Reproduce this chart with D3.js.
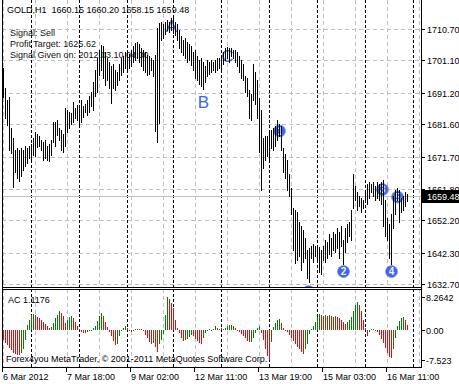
<!DOCTYPE html>
<html><head><meta charset="utf-8">
<script src="https://cdn.jsdelivr.net/npm/d3@7"></script>
<style>
body{margin:0;background:#fff}
svg{display:block}
text{font-family:"Liberation Sans",Arial,sans-serif;font-size:9px}
</style>
</head><body><svg id="c" width="459" height="384"></svg>
<script>
const symbolTitle = "GOLD,H1  1660.15 1660.20 1658.15 1659.48";
const infoLines = ["Signal: Sell", "Profit Target: 1625.62", "Signal Given on: 2012.03.10 04:00"];
const highs = [1698.8,1692.7,1689.0,1689.9,1680.4,1677.4,1673.7,1674.3,1673.7,1674.3,
1673.7,1674.9,1674.3,1674.9,1675.5,1677.4,1679.2,1678.6,1678.0,1676.8,
1676.1,1676.8,1674.9,1675.5,1676.8,1682.3,1682.3,1682.9,1680.4,1679.8,
1678.6,1686.6,1685.9,1685.3,1685.0,1688.4,1686.6,1687.5,1686.6,1689.0,
1687.2,1687.8,1689.0,1690.2,1691.4,1694.5,1698.2,1701.9,1704.3,1705.8,
1705.5,1703.7,1701.9,1700.6,1699.4,1700.0,1698.2,1697.6,1700.0,1701.9,
1702.5,1703.7,1703.7,1703.1,1704.3,1705.5,1706.4,1706.7,1706.1,1704.9,
1704.3,1703.7,1702.8,1702.5,1701.9,1701.2,1702.8,1711.0,1712.6,1712.9,
1712.3,1712.9,1713.5,1712.9,1714.1,1714.4,1712.9,1712.3,1710.4,1708.6,
1707.4,1708.0,1706.7,1706.1,1705.5,1703.7,1704.3,1702.5,1701.2,1701.9,
1700.6,1699.4,1701.2,1700.6,1701.2,1700.6,1701.2,1701.9,1701.9,1702.5,
1703.7,1704.9,1705.2,1704.9,1704.9,1704.3,1704.3,1703.7,1702.5,1701.2,
1700.0,1696.3,1695.7,1692.1,1690.8,1700.0,1697.6,1695.1,1689.6,1685.9,
1677.4,1678.0,1678.0,1679.2,1679.8,1680.4,1681.0,1682.9,1681.7,1681.0,
1674.3,1672.5,1670.6,1666.4,1662.1,1656.0,1655.3,1654.7,1651.7,1650.4,
1649.2,1646.8,1643.1,1643.7,1644.3,1644.9,1644.3,1643.7,1644.0,1643.1,
1644.3,1646.2,1645.5,1648.0,1646.8,1648.6,1648.0,1649.8,1648.6,1650.4,
1646.2,1649.8,1651.1,1651.7,1655.3,1666.4,1662.7,1660.8,1659.6,1659.0,
1658.4,1661.5,1663.3,1663.9,1663.3,1663.9,1662.7,1663.9,1663.3,1663.9,
1664.5,1658.4,1652.9,1651.1,1654.1,1659.6,1661.5,1662.1,1661.5,1659.0,
1659.6,1660.8,1660.20];
const lows = [1689.9,1683.5,1681.3,1673.7,1672.8,1662.4,1667.0,1665.1,1664.2,1665.7,
1667.6,1668.8,1669.7,1671.3,1670.6,1672.2,1671.9,1674.6,1674.9,1673.7,
1670.6,1671.3,1670.6,1670.3,1672.2,1676.1,1674.9,1678.3,1676.8,1673.7,
1673.1,1674.9,1679.2,1680.4,1681.7,1682.3,1683.5,1682.9,1681.7,1682.3,
1683.8,1685.3,1684.4,1685.3,1687.2,1685.9,1690.2,1691.4,1696.6,1698.2,
1695.7,1693.6,1695.1,1692.7,1688.1,1692.7,1692.1,1693.6,1695.1,1696.6,
1697.6,1698.8,1698.2,1698.8,1699.4,1700.6,1701.2,1701.9,1700.6,1699.4,
1698.2,1697.6,1696.6,1697.0,1698.2,1696.3,1679.5,1676.1,1682.0,1707.4,
1708.0,1709.2,1710.4,1709.8,1710.4,1709.5,1708.9,1707.4,1704.9,1703.7,
1702.8,1701.9,1700.6,1701.2,1699.7,1698.2,1695.7,1695.1,1693.9,1693.3,
1692.4,1694.5,1696.3,1697.0,1697.6,1698.2,1697.6,1698.2,1698.8,1698.2,
1700.0,1701.2,1701.9,1700.6,1702.5,1701.9,1700.6,1699.4,1697.6,1695.7,
1695.1,1691.4,1690.2,1683.5,1682.9,1689.0,1687.8,1683.5,1673.1,1661.5,
1668.2,1670.6,1671.9,1670.0,1674.3,1673.7,1674.9,1676.8,1678.0,1673.7,
1667.0,1665.1,1661.5,1659.6,1654.1,1643.1,1639.1,1640.0,1641.3,1637.0,
1639.4,1640.7,1634.5,1633.3,1640.7,1639.4,1641.3,1640.0,1636.4,1635.8,
1640.0,1639.4,1640.7,1641.9,1641.3,1643.1,1642.5,1643.7,1640.7,1644.3,
1638.8,1642.5,1645.5,1647.4,1646.2,1656.0,1658.4,1655.3,1656.6,1654.7,
1656.0,1657.8,1657.2,1659.0,1660.8,1659.6,1658.4,1659.0,1658.4,1657.2,
1650.4,1647.4,1646.2,1640.7,1638.8,1649.8,1654.1,1658.4,1651.7,1654.7,
1655.3,1656.6,1658.15];
const lastPrice = 1659.48;
const priceTicks = [1710.70,1701.10,1691.20,1681.60,1671.70,1661.80,1652.20,1642.30,1632.70];
const acValues = [-2.4,-3.2,-3.8,-4.5,-5.0,-5.6,-5.9,-6.1,-6.2,-5.7,
-4.6,-2.6,1.2,2.6,3.6,3.9,3.6,3.3,2.9,2.5,
2.1,1.6,0.9,0.5,0.7,1.8,2.9,3.8,4.6,4.2,
3.4,1.8,2.4,3.2,3.5,3.0,2.0,1.0,0.2,-0.4,
-0.7,-0.8,-0.5,-0.2,0.1,0.4,1.0,2.2,3.4,4.2,
3.4,2.1,0.8,-0.4,-1.5,-2.8,-3.8,-3.4,-1.5,-0.2,
0.5,0.9,0.4,-0.1,-0.6,-0.3,0.2,0.3,0.25,0.2,
-0.1,-1.2,-2.1,-2.9,-3.4,-3.2,-4.2,-5.4,-3.6,-2.4,
-1.0,3.6,8.2642,7.6,6.8,5.4,2.5,0.6,-0.8,-2.0,
-2.8,-2.6,-2.2,-1.7,-1.2,-1.5,-2.2,-2.8,-3.2,-3.5,
-2.0,-0.8,-0.3,0.2,-0.2,0.3,0.9,0.5,0.3,0.4,
0.3,0.6,1.0,1.2,1.3,1.1,0.6,-0.2,-0.6,-1.0,
-1.5,-2.1,-2.7,-3.1,-3.0,-2.0,-0.8,0.5,0.9,-0.8,
-2.5,-4.8,-6.5,-7.523,-3.0,0.8,1.8,2.4,2.8,1.7,
0.4,0.1,-0.4,-1.2,-2.0,-2.8,-3.5,-4.2,-4.8,-5.4,
-5.9,-4.6,-3.4,-1.0,0.3,0.9,2.0,3.2,4.0,3.7,
3.5,3.6,3.4,3.6,3.5,3.3,3.4,3.2,2.9,2.4,
2.0,1.6,2.0,2.5,3.2,4.6,6.2,7.0,6.3,4.6,
2.5,0.4,-1.4,-0.6,0.2,0.3,0.1,-0.4,-1.3,-2.2,
-3.3,-4.5,-5.6,-6.6,-7.0,-4.6,-2.0,1.0,2.2,3.0,
3.3,2.4,1.1176];
const acName = "AC 1.1176";
const acTickValues = [8.2642, 0, -7.523];
const acTickLabels = ["8.2642", "0.00", "-7.523"];
const timeLabelBars = [0, 32, 64, 96, 128, 160, 192];
const timeLabels = ["6 Mar 2012", "7 Mar 18:00", "9 Mar 02:00", "12 Mar 11:00", "13 Mar 19:00", "15 Mar 03:00", "16 Mar 11:00"];
const daySeparatorBars = [14, 38, 62, 85, 109, 133, 157, 181, 205];
const waveNames = ["1", "2", "3", "4", "5"];
const waveBars = [138, 170, 189.5, 194, 197];
const wavePrices = [1679.5, 1636.5, 1661.6, 1636.5, 1659.3];
const letterNames = ["A", "B", "C"];
const letterBars = [84, 100, 112];
const letterPrices = [1711.9, 1688.4, 1702.5];
const targetMarkBar = 152.5;
const targetMarkPrice = 1630.4;
const copyright = "Forex4you MetaTrader, \u00a9 2001-2011 MetaQuotes Software Corp.";

const svg = d3.select("#c");
const L = 2, R = 421, mainTop = 0, mainBot = 287, indTop = 289, indBot = 367;
const x = d3.scaleLinear().domain([0, 202]).range([3, 407]);
const y = d3.scaleLinear().domain([1632.7, 1710.7]).range([284, 29]);
const ya = d3.scaleLinear().domain([-7.523, 8.2642]).range([360.3, 296.7]);
const gridStep = 16;

svg.append("rect").attr("width", 459).attr("height", 384).attr("fill", "#fff");
const defs = svg.append("defs");
defs.append("clipPath").attr("id", "mainClip").append("rect")
  .attr("x", L).attr("y", mainTop).attr("width", R - L).attr("height", mainBot - mainTop);

const gridBars = d3.range(0, 209, gridStep);
// vertical gray grid
[[mainTop, mainBot], [indTop, indBot]].forEach(([a, b]) => {
  svg.append("g").selectAll("line").data(gridBars).join("line")
    .attr("x1", d => x(d) + 0.5).attr("x2", d => x(d) + 0.5)
    .attr("y1", a).attr("y2", b)
    .attr("stroke", "#c0c0c0").attr("stroke-dasharray", "4,3");
});
// horizontal grid
svg.append("g").selectAll("line").data(priceTicks).join("line")
  .attr("x1", L).attr("x2", R)
  .attr("y1", d => Math.round(y(d)) + 0.5).attr("y2", d => Math.round(y(d)) + 0.5)
  .attr("stroke", "#c0c0c0").attr("stroke-dasharray", "4,3");
// day separators
[[mainTop, mainBot], [indTop, indBot]].forEach(([a, b]) => {
  svg.append("g").selectAll("line").data(daySeparatorBars).join("line")
    .attr("x1", d => x(d) + 0.5).attr("x2", d => x(d) + 0.5)
    .attr("y1", a).attr("y2", b)
    .attr("stroke", "#000").attr("stroke-dasharray", "3,2");
});
// current price line
const yl = Math.round(y(lastPrice)) + 0.5;
svg.append("line").attr("x1", L).attr("x2", R).attr("y1", yl).attr("y2", yl).attr("stroke", "#c0c0c0");

// text objects
svg.append("text").attr("x", 7).attr("y", 13).text(symbolTitle).attr("xml:space", "preserve").style("white-space", "pre");
svg.append("g").selectAll("text").data(infoLines).join("text")
  .attr("x", 10).attr("y", (d, i) => 36 + i * 11).attr("fill", "#111").text(d => d);

const markG = svg.append("g").attr("clip-path", "url(#mainClip)");
markG.selectAll("text.let").data(letterNames).join("text").attr("class", "let")
  .attr("x", (d, i) => x(letterBars[i]) + 0.5).attr("y", (d, i) => y(letterPrices[i]) + 6.5)
  .attr("text-anchor", "middle").style("font-size", "17px").attr("fill", "#3d68e0").text(d => d);
markG.selectAll("circle.w").data(waveNames).join("circle").attr("class", "w")
  .attr("cx", (d, i) => x(waveBars[i]) + 0.5).attr("cy", (d, i) => y(wavePrices[i]))
  .attr("r", 6).attr("fill", "#3f66e0").attr("stroke", "#7f98f0").attr("stroke-width", 0.8);
markG.selectAll("text.w").data(waveNames).join("text").attr("class", "w")
  .attr("x", (d, i) => x(waveBars[i]) + 0.5).attr("y", (d, i) => y(wavePrices[i]) + 3.5)
  .attr("text-anchor", "middle").style("font-size", "10px").style("font-weight", "bold")
  .attr("fill", "#eef").text(d => d);
markG.append("circle").attr("cx", x(targetMarkBar) + 0.5).attr("cy", y(targetMarkPrice))
  .attr("r", 6).attr("fill", "#3f66e0");

// bars
svg.append("g").attr("clip-path", "url(#mainClip)").selectAll("rect").data(highs).join("rect")
  .attr("x", (d, i) => x(i)).attr("width", 1)
  .attr("y", (d, i) => Math.round(y(d)))
  .attr("height", (d, i) => Math.max(1, Math.round(y(lows[i])) - Math.round(y(d)) + 1))
  .attr("fill", "#000");

// AC histogram
const y0 = Math.round(ya(0));
svg.append("g").selectAll("rect").data(acValues).join("rect")
  .attr("x", (d, i) => x(i)).attr("width", 1)
  .attr("y", d => d >= 0 ? Math.round(ya(d)) : y0)
  .attr("height", d => Math.max(1, Math.abs(Math.round(ya(d)) - y0)))
  .attr("fill", (d, i) => (i > 0 && d > acValues[i - 1]) ? "#008000" : "#ff0000");
svg.append("text").attr("x", 8).attr("y", 302.5).text(acName);
svg.append("text").attr("x", 6).attr("y", 361.5).text(copyright);

// frames
const fr = svg.append("g").attr("stroke", "#000").attr("fill", "none").attr("shape-rendering", "crispEdges");
fr.append("line").attr("x1", L + 0.5).attr("x2", L + 0.5).attr("y1", 0).attr("y2", indBot + 1);
fr.append("line").attr("x1", R + 0.5).attr("x2", R + 0.5).attr("y1", 0).attr("y2", indBot + 1);
fr.append("line").attr("x1", L).attr("x2", R + 1).attr("y1", mainBot + 0.5).attr("y2", mainBot + 0.5);
fr.append("line").attr("x1", L).attr("x2", R + 1).attr("y1", indTop + 0.5).attr("y2", indTop + 0.5);
fr.append("line").attr("x1", L).attr("x2", R + 1).attr("y1", indBot + 0.5).attr("y2", indBot + 0.5);

// price axis
fr.selectAll("line.pt").data(priceTicks).join("line").attr("class", "pt")
  .attr("x1", R).attr("x2", R + 4)
  .attr("y1", d => Math.round(y(d)) + 0.5).attr("y2", d => Math.round(y(d)) + 0.5);
svg.append("g").selectAll("text").data(priceTicks).join("text")
  .attr("x", 427).attr("y", d => Math.round(y(d)) + 3.5).text(d => d.toFixed(2));
// last price label
svg.append("rect").attr("x", R + 1).attr("y", Math.round(y(lastPrice)) - 6).attr("width", 459 - R - 1).attr("height", 13).attr("fill", "#000");
svg.append("text").attr("x", 427).attr("y", Math.round(y(lastPrice)) + 3.5).attr("fill", "#fff").text(lastPrice.toFixed(2));
// AC axis
fr.selectAll("line.at").data(acTickValues).join("line").attr("class", "at")
  .attr("x1", R).attr("x2", R + 4)
  .attr("y1", d => Math.round(ya(d)) + 0.5).attr("y2", d => Math.round(ya(d)) + 0.5);
svg.append("g").selectAll("text").data(acTickLabels).join("text")
  .attr("x", 426).attr("y", (d, i) => Math.round(ya(acTickValues[i])) + 3.5).text(d => d);
// time axis
fr.selectAll("line.tt").data(timeLabelBars).join("line").attr("class", "tt")
  .attr("x1", d => x(d) - 0.5).attr("x2", d => x(d) - 0.5).attr("y1", indBot).attr("y2", indBot + 5);
svg.append("g").selectAll("text").data(timeLabels).join("text")
  .attr("x", (d, i) => x(timeLabelBars[i]) + 0).attr("y", 380).text(d => d);
</script></body></html>
